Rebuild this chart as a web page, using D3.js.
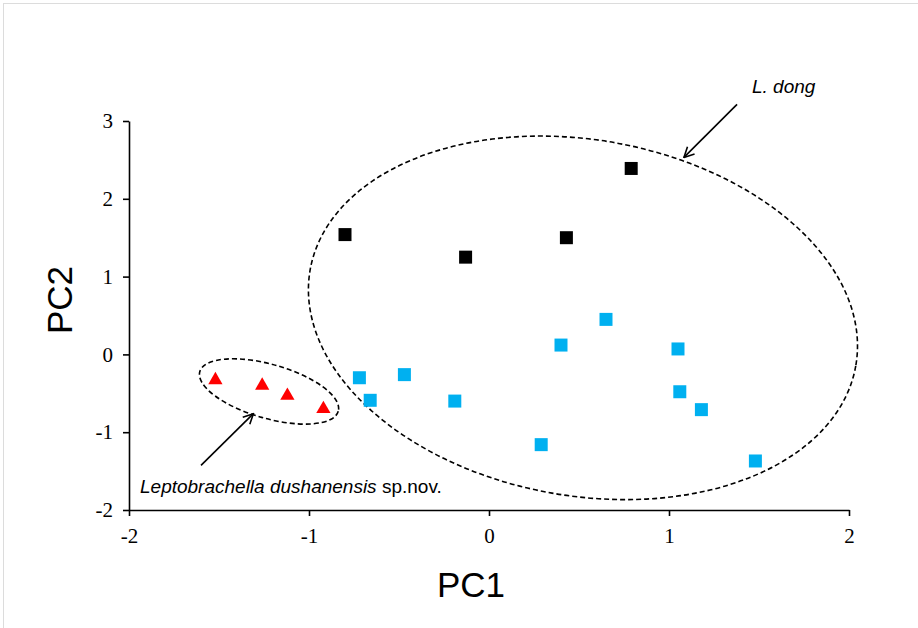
<!DOCTYPE html>
<html>
<head>
<meta charset="utf-8">
<script src="https://cdn.jsdelivr.net/npm/d3@7"></script>
<style>
  body { margin: 0; background: #fff; }
  svg { display: block; }
</style>
</head>
<body>
<svg width="918" height="628"></svg>
<script>
// PCA scores
var blackPC1 = [-0.80, -0.13, 0.43, 0.79];
var blackPC2 = [1.54, 1.25, 1.50, 2.39];
var bluePC1 = [-0.72, -0.66, -0.47, -0.19, 0.29, 0.40, 0.65, 1.05, 1.06, 1.18, 1.48];
var bluePC2 = [-0.30, -0.59, -0.26, -0.60, -1.16, 0.12, 0.45, 0.07, -0.48, -0.71, -1.37];
var redPC1 = [-1.52, -1.26, -1.12, -0.92];
var redPC2 = [-0.33, -0.40, -0.53, -0.70];
var xTicks = [-2, -1, 0, 1, 2];
var yTicks = [-2, -1, 0, 1, 2, 3];

var svg = d3.select('svg');

// light frame round the picture
svg.append('rect')
    .attr('x', 3.5).attr('y', 3.5)
    .attr('width', 930).attr('height', 640)
    .attr('fill', 'none')
    .attr('stroke', '#dcdcdc');

var xScale = d3.scaleLinear().domain([-2, 2]).range([129, 849]);
var yScale = d3.scaleLinear().domain([-2, 3]).range([510, 121]);

// plain hyphen for negatives, like the original
var fmt = function(d) { return String(d); };

var xAxis = d3.axisBottom(xScale).tickValues(xTicks).tickSizeInner(6).tickSizeOuter(0).tickPadding(9)
    .tickFormat(fmt);
var yAxis = d3.axisLeft(yScale).tickValues(yTicks).tickSizeInner(6).tickSizeOuter(0).tickPadding(10)
    .tickFormat(fmt);

var gx = svg.append('g')
    .attr('transform', 'translate(0,' + yScale(-2) + ')')
    .call(xAxis);
var gy = svg.append('g')
    .attr('transform', 'translate(' + xScale(-2) + ',0)')
    .call(yAxis);

[gx, gy].forEach(function(g) {
    g.attr('font-family', '"Liberation Serif", "Times New Roman", serif')
        .attr('font-size', 21);
    g.select('.domain').attr('stroke', '#000').attr('stroke-width', 1.6);
    g.selectAll('.tick line').attr('stroke', '#000').attr('stroke-width', 1.6);
    g.selectAll('.tick text').attr('fill', '#000');
});
gx.selectAll('.tick text').attr('dy', '0.85em');

// axis titles
svg.append('text')
    .attr('x', 471).attr('y', 597)
    .attr('text-anchor', 'middle')
    .style('font-family', '"Liberation Sans", Arial, sans-serif')
    .style('font-size', '35px')
    .text('PC1');

svg.append('text')
    .attr('transform', 'translate(72,300) rotate(-90)')
    .attr('text-anchor', 'middle')
    .style('font-family', '"Liberation Sans", Arial, sans-serif')
    .style('font-size', '35px')
    .text('PC2');

// dashed group ellipses
var ellipses = [
    {cx: 0.522, cy: 0.47, rx: 277, ry: 178, rot: 10},
    {cx: -1.222, cy: -0.476, rx: 72, ry: 27, rot: 16}
];
svg.selectAll('.group-ellipse')
    .data(ellipses)
    .enter()
    .append('ellipse')
    .attr('class', 'group-ellipse')
    .attr('transform', function(d) {
        return 'translate(' + [xScale(d.cx), yScale(d.cy)] + ') rotate(' + d.rot + ')';
    })
    .attr('rx', function(d) { return d.rx; })
    .attr('ry', function(d) { return d.ry; })
    .attr('fill', 'none')
    .attr('stroke', '#000')
    .attr('stroke-width', 1.6)
    .attr('stroke-dasharray', '5,3');

// points
function zip(a, b) {
    return a.map(function(v, i) { return {x: v, y: b[i]}; });
}
var square = d3.symbol().type(d3.symbolSquare).size(169);
var triangle = d3.symbol().type(d3.symbolTriangle).size(88);

svg.selectAll('.black-pt')
    .data(zip(blackPC1, blackPC2))
    .enter().append('path')
    .attr('class', 'black-pt')
    .attr('d', square)
    .attr('transform', function(d) { return 'translate(' + [xScale(d.x), yScale(d.y)] + ')'; })
    .attr('fill', '#000');

svg.selectAll('.blue-pt')
    .data(zip(bluePC1, bluePC2))
    .enter().append('path')
    .attr('class', 'blue-pt')
    .attr('d', square)
    .attr('transform', function(d) { return 'translate(' + [xScale(d.x), yScale(d.y)] + ')'; })
    .attr('fill', '#00b0f0');

svg.selectAll('.red-pt')
    .data(zip(redPC1, redPC2))
    .enter().append('path')
    .attr('class', 'red-pt')
    .attr('d', triangle)
    .attr('transform', function(d) { return 'translate(' + [xScale(d.x), yScale(d.y)] + ')'; })
    .attr('fill', '#ff0000');

// arrows with open heads
svg.append('defs').append('marker')
    .attr('id', 'head')
    .attr('viewBox', '0 0 12 12')
    .attr('refX', 11).attr('refY', 6)
    .attr('markerWidth', 12).attr('markerHeight', 12)
    .attr('markerUnits', 'userSpaceOnUse')
    .attr('orient', 'auto')
    .append('path')
    .attr('d', 'M1,1 L11,6 L1,11')
    .attr('fill', 'none')
    .attr('stroke', '#000')
    .attr('stroke-width', 1.6);

var arrows = [
    {x1: 1.378, y1: 3.213, x2: 1.083, y2: 2.532},
    {x1: -1.600, y1: -1.427, x2: -1.309, y2: -0.762}
];
svg.selectAll('.arrow')
    .data(arrows)
    .enter().append('line')
    .attr('class', 'arrow')
    .attr('x1', function(d) { return xScale(d.x1); })
    .attr('y1', function(d) { return yScale(d.y1); })
    .attr('x2', function(d) { return xScale(d.x2); })
    .attr('y2', function(d) { return yScale(d.y2); })
    .attr('stroke', '#000')
    .attr('stroke-width', 1.6)
    .attr('marker-end', 'url(#head)');

// species labels
svg.append('text')
    .attr('x', 752).attr('y', 93)
    .style('font-family', '"Liberation Sans", Arial, sans-serif')
    .style('font-size', '19px')
    .style('font-style', 'italic')
    .text('L. dong');

var sp = svg.append('text')
    .attr('x', 140).attr('y', 493)
    .style('font-family', '"Liberation Sans", Arial, sans-serif')
    .style('font-size', '19px');
sp.append('tspan').style('font-style', 'italic').text('Leptobrachella dushanensis');
sp.append('tspan').text(' sp.nov.');
</script>
</body>
</html>
